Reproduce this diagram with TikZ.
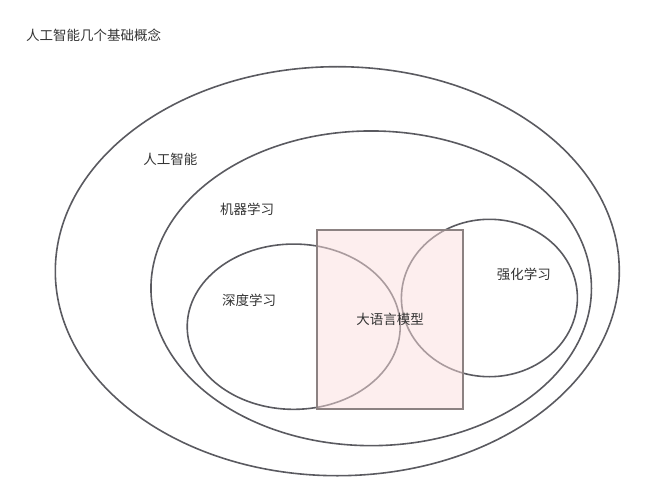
\documentclass[tikz,border=0pt]{standalone}
\usepackage{xcolor}
\usepackage{fontspec}
\newfontfamily\cjk{Noto Sans CJK SC}
\usetikzlibrary{shapes.geometric}

\definecolor{ringgray}{HTML}{5A5A60}
\definecolor{textgray}{HTML}{333333}
\definecolor{llmfill}{RGB}{251,221,221}
\definecolor{llmdraw}{HTML}{8C8282}

\begin{document}
\begin{tikzpicture}[
    x=1pt, y=-1pt,
    ring/.style={ellipse, draw=ringgray, line width=1.6pt, inner sep=0pt},
    label/.style={font=\cjk\fontsize{13.5}{16}\selectfont, text=textgray, inner sep=0pt},
    llm/.style={rectangle, draw=llmdraw, line width=1.6pt, fill=llmfill, fill opacity=0.5, text opacity=1, inner sep=0pt}
]
\useasboundingbox (0,0) rectangle (645,500);

% Title
\node[label] (title) at (93.5, 35) {人工智能几个基础概念};

% Nested sets
\node[ring, minimum width=564pt, minimum height=409pt] (ai) at (337.3, 271.2) {};
\node[ring, minimum width=440.5pt, minimum height=314.7pt] (ml) at (371.2, 288.3) {};
\node[ring, minimum width=213pt, minimum height=165.3pt] (dl) at (293.7, 326.7) {};
\node[ring, minimum width=176pt, minimum height=157.4pt] (rl) at (489.4, 298) {};

% Labels
\node[label] (aiLabel) at (170.4, 159) {人工智能};
\node[label] (mlLabel) at (247, 209) {机器学习};
\node[label] (dlLabel) at (249, 300) {深度学习};
\node[label] (rlLabel) at (523.8, 274) {强化学习};

% Large language model box on top
\node[llm, label, minimum width=146pt, minimum height=179pt] (llmBox) at (390, 319.5) {大语言模型};

\end{tikzpicture}
\end{document}
